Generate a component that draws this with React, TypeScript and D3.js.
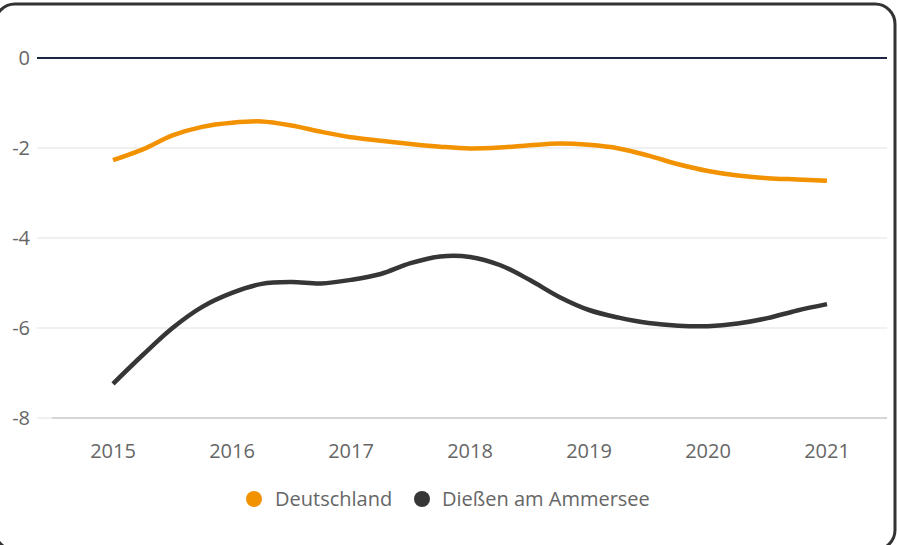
import React from "react";
import * as d3 from "d3";

const years = [2015, 2016, 2017, 2018, 2019, 2020, 2021];
const yTicks = [0, -2, -4, -6, -8];
const periods = [
  2015, 2015.25, 2015.5, 2015.75, 2016, 2016.25, 2016.5, 2016.75, 2017, 2017.25, 2017.5, 2017.75, 2018,
  2018.25, 2018.5, 2018.75, 2019, 2019.25, 2019.5, 2019.75, 2020, 2020.25, 2020.5, 2020.75, 2021,
];
const deutschland = [
  -2.27, -2.03, -1.72, -1.53, -1.44, -1.41, -1.5, -1.64, -1.76, -1.84, -1.91, -1.97, -2.01,
  -1.99, -1.94, -1.9, -1.93, -2.01, -2.17, -2.36, -2.51, -2.61, -2.67, -2.7, -2.73,
];
const diessen = [
  -7.24, -6.6, -6.0, -5.53, -5.22, -5.02, -4.98, -5.01, -4.93, -4.8, -4.56, -4.41, -4.42,
  -4.6, -4.93, -5.31, -5.6, -5.77, -5.89, -5.95, -5.96, -5.9, -5.78, -5.61, -5.47,
];
const seriesNames = ["Deutschland", "Dießen am Ammersee"];
const seriesColors = ["#f39200", "#363636"];

const W = 897;
const H = 545;
const FONT = "'Open Sans', sans-serif";

export default function App() {
  const x = d3.scaleLinear().domain([2015, 2021]).range([113, 827]);
  const y = d3.scaleLinear().domain([-8, 0]).range([418, 58]);
  const line = d3
    .line<[number, number]>()
    .x((d) => x(d[0]))
    .y((d) => y(d[1]))
    .curve(d3.curveCatmullRom.alpha(0.5));
  const seriesData = [deutschland, diessen].map((vals) =>
    periods.map((p, i) => [p, vals[i]] as [number, number])
  );

  return (
    <svg
      width={W}
      height={H}
      style={{ position: "absolute", left: 0, top: 0, background: "#fff" }}
      fontFamily={FONT}
    >
      <rect x={-5} y={4} width={900} height={546} rx={20} ry={20} fill="#fff" stroke="#333" strokeWidth={3} />
      {yTicks.map((t) => (
        <g key={t}>
          <line
            x1={37}
            x2={887}
            y1={y(t)}
            y2={y(t)}
            stroke={t === 0 ? "#1c2541" : "#e2e2e2"}
            strokeWidth={t === 0 ? 2 : 1.2}
          />
          <text x={30} y={y(t) + 7} textAnchor="end" fontSize={20} fill="#666">
            {t}
          </text>
        </g>
      ))}
      <line x1={52} x2={887} y1={y(-8)} y2={y(-8)} stroke="#cccccc" strokeWidth={1.5} />
      {years.map((yr) => (
        <text key={yr} x={x(yr)} y={458} textAnchor="middle" fontSize={20} fill="#666">
          {yr}
        </text>
      ))}
      {seriesData.map((d, i) => (
        <path key={i} d={line(d) || ""} fill="none" stroke={seriesColors[i]} strokeWidth={4.5} strokeLinejoin="round" />
      ))}
      <g>
        <circle cx={254} cy={499} r={8} fill={seriesColors[0]} />
        <text x={275} y={506} fontSize={20} fill="#666">
          {seriesNames[0]}
        </text>
        <circle cx={422} cy={499} r={8} fill={seriesColors[1]} />
        <text x={442} y={506} fontSize={20} fill="#666">
          {seriesNames[1]}
        </text>
      </g>
    </svg>
  );
}
